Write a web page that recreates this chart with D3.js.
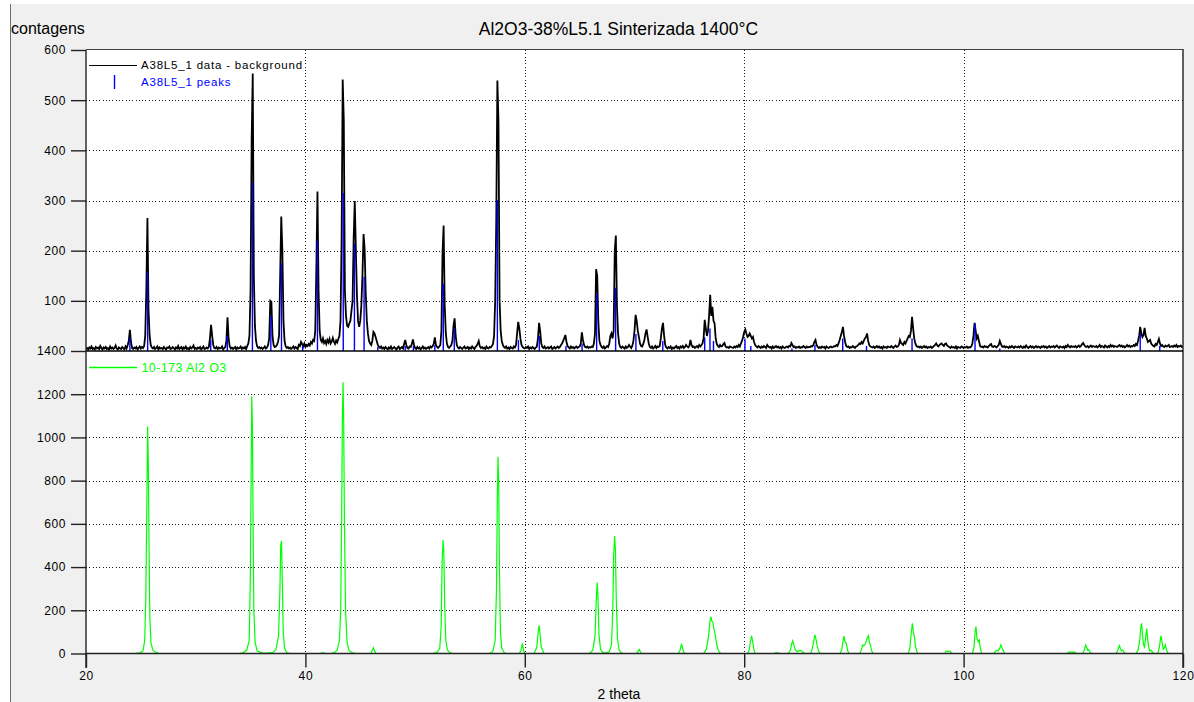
<!DOCTYPE html>
<html>
<head>
<meta charset="utf-8">
<script src="https://cdn.jsdelivr.net/npm/d3@7"></script>
<style>
  html, body { margin: 0; padding: 0; background: #ffffff; }
  svg { display: block; font-family: "Liberation Sans", Arial, sans-serif; }
</style>
</head>
<body>
<svg id="chart" width="1194" height="702"></svg>
<script>
// ---- texts ----
const chartTitle = "Al2O3-38%L5.1 Sinterizada 1400°C";
const yAxisTitle = "contagens";
const xAxisTitle = "2 theta";
const legendMeasured = "A38L5_1 data - background";
const legendPeaks = "A38L5_1 peaks";
const legendReference = "10-173 Al2 O3";

// ---- axis ticks ----
const xTicks = [20, 40, 60, 80, 100, 120];
const xGridTicks = [40, 60, 80, 100];
const topTicks = [100, 200, 300, 400, 500, 600];
const bottomTicks = [0, 200, 400, 600, 800, 1000, 1200, 1400];

// ---- measured pattern (background subtracted), counts every 0.1° from 20° ----
const scanStart = 20;
const scanStep = 0.1;
const measuredCounts = [
  4,6,3,7,5,9,4,6,3,8,   5,7,4,10,6,3,7,5,8,4,   6,3,9,5,7,4,6,11,5,3,   7,5,4,8,6,3,9,5,12,20,   42,18,6,4,7,5,8,3,6,9,
  5,8,6,10,30,122,265,82,30,12,   7,5,8,4,6,9,3,7,5,6,   4,8,5,3,7,6,9,4,5,8,   6,3,7,5,10,4,6,8,3,7,   5,9,4,6,3,8,5,7,11,4,
  6,4,7,5,8,3,6,9,4,5,   7,5,8,25,52,30,12,6,5,8,   4,7,5,6,9,3,6,8,20,67,   25,9,5,7,4,6,8,3,7,5,   6,9,4,7,5,8,4,10,15,30,
  120,420,553,148,50,20,9,6,8,5,   7,4,6,9,5,7,12,25,100,98,   30,12,8,9,12,18,30,150,268,200,   60,20,9,6,8,5,7,4,6,9,   5,8,6,4,12,10,18,14,9,15,
  8,12,10,14,11,18,15,22,20,40,   168,318,120,40,22,18,25,16,20,14,   22,17,24,15,19,26,18,14,21,17,   24,30,60,220,541,460,120,70,50,48,   55,60,80,100,225,299,200,110,60,48,
  60,90,150,233,203,115,60,35,20,15,   12,20,38,35,28,20,12,8,6,9,   5,7,4,8,6,3,7,5,9,4,   6,8,5,3,7,9,4,6,8,5,   14,22,12,6,5,9,8,14,23,12,
  6,4,8,5,7,3,6,9,5,7,   4,6,8,5,9,7,10,14,27,12,   8,6,9,12,40,195,250,90,35,15,   8,6,9,12,20,50,65,30,12,7,   5,8,6,4,7,9,5,6,8,4,
  7,5,9,6,4,8,10,14,20,9,   6,8,5,7,4,9,6,5,8,7,   10,14,30,100,261,539,457,102,40,20,   12,8,6,9,5,7,4,8,6,5,   9,7,12,35,58,45,25,12,8,6,
  5,8,6,9,4,7,5,8,6,4,   7,9,25,56,40,15,8,6,9,5,   6,8,5,7,9,4,6,8,5,7,   9,6,8,12,15,20,26,32,18,10,   7,5,9,6,8,5,7,9,6,8,
  9,14,37,22,12,8,7,9,6,8,   7,9,8,15,35,163,150,60,20,12,   8,6,9,5,7,10,8,15,30,35,   25,40,200,230,90,35,15,8,6,9,   7,5,9,6,8,12,9,6,10,20,
  40,72,60,40,28,15,10,9,14,22,   35,43,28,15,8,6,9,5,7,10,   6,9,8,10,25,45,56,30,12,7,   5,8,6,9,4,7,5,8,10,6,   8,5,9,7,10,6,8,12,9,7,
  10,22,12,8,9,6,8,10,7,12,   9,12,15,25,62,45,30,40,70,112,   70,88,60,55,25,14,10,8,12,9,   10,14,16,9,7,8,6,9,8,7,   6,9,7,10,8,12,9,15,20,28,
  38,43,35,28,30,35,30,25,28,18,   12,9,7,10,8,6,9,7,10,8,   6,12,9,7,8,5,9,6,8,10,   7,9,6,8,5,9,7,6,8,9,   7,10,9,16,12,8,9,6,8,7,
  9,6,8,7,10,8,6,9,7,8,   8,10,9,12,18,22,12,8,6,8,   6,9,7,8,5,9,7,6,8,9,   7,8,10,9,12,10,15,22,30,38,   48,30,18,10,8,9,6,8,7,10,
  8,6,9,10,12,15,14,18,15,20,   25,28,35,20,12,9,8,7,9,6,   8,10,7,9,6,8,5,9,7,8,   6,9,8,7,10,8,6,9,11,8,   9,12,22,16,14,12,18,15,20,25,
  30,28,40,68,45,25,15,10,8,9,   7,9,6,8,10,7,9,6,8,7,   9,6,8,10,12,15,11,9,12,14,   15,12,10,14,15,11,9,8,6,9,   7,8,6,9,5,8,7,6,9,8,
  6,8,7,9,6,8,7,9,15,30,   56,40,25,30,20,10,8,9,7,10,   8,9,7,10,12,14,9,8,10,9,   7,10,12,20,14,9,8,10,7,9,   8,6,9,7,10,8,6,9,8,7,
  9,7,10,8,6,9,7,11,8,6,   8,10,7,9,6,8,10,7,9,8,   6,9,8,10,7,9,6,8,10,7,   9,8,10,7,9,11,8,6,9,8,   7,9,6,10,8,12,9,7,10,8,
  9,8,10,7,9,11,8,10,14,16,   12,9,8,10,7,9,11,8,10,9,   8,10,7,9,12,8,10,9,7,11,   9,7,10,8,12,9,11,8,10,9,   8,10,12,9,11,8,10,7,9,12,
  9,11,8,10,9,12,10,14,12,20,   30,48,35,28,32,46,30,25,18,20,   22,15,12,10,9,14,12,18,24,15,   10,12,9,8,11,9,10,12,8,9,   10,8,11,9,12,8,10,9,11,8,
  9
];

// ---- fitted peak list of the measured pattern ----
const peakTheta = [24.0, 25.62, 31.37, 32.88, 35.17, 36.85, 37.82, 39.75, 41.1, 43.45, 44.47, 45.35, 46.6, 49.1, 49.85, 51.8,
  52.57, 53.57, 57.5, 59.42, 61.32, 63.75, 65.22, 66.55, 68.28, 70.13, 72.58, 76.4, 76.88, 77.2, 80.07, 80.6, 84.35, 86.45,
  88.98, 91.15, 95.3, 101.04, 103.3, 116.1, 117.88];
const peakCounts = [26, 158, 22, 30, 337, 70, 175, 10, 220, 315, 214, 148, 8, 10, 10, 12,
  134, 45, 301, 22, 30, 10, 15, 115, 126, 34, 20, 27, 45, 20, 25, 10, 5, 12,
  25, 10, 25, 55, 5, 35, 10];

// ---- reference pattern 10-173 (corundum), [2θ, intensity] ----
const referenceProfile = [
  [20,0],[24.4,0],[24.9,3],[25.2,12],[25.35,60],[25.45,250],[25.55,700],[25.62,1050],[25.68,880],[25.75,480],[25.82,170],[25.92,50],[26.1,15],[26.4,4],[26.7,0],
  [33.9,0],[34.3,3],[34.65,15],[34.88,60],[34.98,350],[35.05,800],[35.11,1190],[35.17,1050],[35.23,600],[35.3,200],[35.42,50],[35.6,12],[36.0,3],[36.5,2],[37.0,4],[37.3,15],
  [37.55,80],[37.68,300],[37.75,500],[37.82,521],[37.9,330],[37.98,100],[38.1,25],[38.3,4],[38.6,0],
  [41.4,0],[41.5,3],[41.7,3],[41.8,0],
  [42.3,0],[42.6,3],[42.9,15],[43.1,60],[43.22,200],[43.3,600],[43.37,1080],[43.43,1255],[43.49,1080],[43.56,600],[43.66,200],[43.8,50],[44.0,12],[44.3,3],[44.6,0],
  [45.95,0],[46.1,15],[46.19,27],[46.3,12],[46.45,0],
  [51.6,0],[52.0,5],[52.25,25],[52.38,130],[52.46,420],[52.55,525],[52.62,470],[52.7,220],[52.8,60],[52.95,15],[53.2,3],[53.4,0],
  [56.8,0],[57.1,12],[57.3,60],[57.42,300],[57.5,750],[57.56,910],[57.62,780],[57.69,380],[57.78,100],[57.9,25],[58.1,5],[58.3,0],
  [59.5,0],[59.65,15],[59.78,47],[59.88,15],[60.0,0],
  [60.85,0],[61.1,30],[61.22,100],[61.31,130],[61.38,95],[61.5,30],[61.75,0],
  [65.9,0],[66.2,15],[66.4,80],[66.52,250],[66.6,328],[66.67,260],[66.76,90],[66.9,20],[67.1,5],[67.4,2],[67.7,8],[67.9,40],
  [68.02,200],[68.1,450],[68.19,544],[68.26,480],[68.34,250],[68.45,70],[68.6,15],[68.8,3],[69.0,0],
  [70.2,0],[70.35,12],[70.44,19],[70.52,10],[70.62,0],
  [74.0,0],[74.15,15],[74.29,44],[74.38,25],[74.5,5],[74.6,0],
  [76.3,0],[76.55,20],[76.75,80],[76.88,150],[76.97,170],[77.05,150],[77.15,145],[77.25,110],[77.35,90],[77.45,55],[77.6,20],[77.75,5],[77.9,0],
  [80.3,0],[80.45,15],[80.58,60],[80.68,81],[80.76,60],[80.88,20],[81.0,0],
  [82.75,0],[82.85,3],[83.1,3],[83.2,0],
  [84.0,0],[84.2,15],[84.33,45],[84.42,59],[84.52,40],[84.65,18],[84.8,8],[84.95,12],[85.1,14],[85.25,10],[85.38,6],[85.5,0],
  [86.05,0],[86.2,20],[86.35,60],[86.45,86],[86.55,65],[86.65,35],[86.8,8],[86.95,0],
  [88.75,0],[88.9,20],[89.02,60],[89.1,81],[89.18,55],[89.25,50],[89.32,45],[89.42,15],[89.55,0],
  [90.55,0],[90.7,20],[90.8,40],[90.9,35],[91.05,45],[91.2,70],[91.32,82],[91.4,55],[91.5,40],[91.6,15],[91.75,0],
  [94.95,0],[95.1,25],[95.22,90],[95.33,140],[95.42,100],[95.52,75],[95.62,30],[95.8,0],
  [98.3,0],[98.4,10],[98.5,13],[98.6,8],[98.75,12],[98.85,5],[98.95,0],
  [100.8,0],[100.95,30],[101.05,100],[101.13,125],[101.22,70],[101.33,55],[101.43,63],[101.52,25],[101.65,0],
  [102.7,0],[102.85,5],[103.0,15],[103.15,12],[103.3,25],[103.4,40],[103.5,25],[103.6,15],[103.75,0],
  [109.4,0],[109.55,6],[109.7,8],[109.9,5],[110.1,7],[110.3,0],
  [110.85,0],[111.0,15],[111.13,40],[111.22,28],[111.32,15],[111.42,18],[111.52,6],[111.65,0],
  [113.9,0],[114.05,15],[114.2,37],[114.3,22],[114.4,12],[114.5,16],[114.62,6],[114.75,0],
  [115.7,0],[115.9,15],[116.05,60],[116.15,120],[116.23,140],[116.3,90],[116.4,40],[116.5,30],[116.6,80],[116.69,115],[116.77,70],[116.87,30],[116.97,12],[117.1,15],[117.22,5],[117.4,0],
  [117.7,0],[117.85,30],[117.95,70],[118.0,82],[118.1,50],[118.2,20],[118.3,25],[118.4,40],[118.5,15],[118.66,0],[120,0]
];

// ---- layout ----
const W = 1194, H = 702;
const plot = { left: 86, right: 1183, top: 50, mid: 351, bottom: 653.5 };

const svg = d3.select("#chart");

const x = d3.scaleLinear().domain([20, 120]).range([plot.left, plot.right]);
const yTop = d3.scaleLinear().domain([0, 600]).range([plot.mid, plot.top]);
const yBot = d3.scaleLinear().domain([0, 1400]).range([plot.bottom, plot.mid]);

// window background
svg.append("rect").attr("width", W).attr("height", H).attr("fill", "#ffffff");
svg.append("rect").attr("x", 11).attr("y", 4).attr("width", W - 11).attr("height", H - 4).attr("fill", "#f0f0f0");
svg.append("line").attr("x1", 10.5).attr("x2", 10.5).attr("y1", 4).attr("y2", H)
  .attr("stroke", "#6e6e6e").attr("stroke-width", 1);

// plot area
svg.append("rect").attr("x", plot.left).attr("y", plot.top)
  .attr("width", plot.right - plot.left).attr("height", plot.bottom - plot.top).attr("fill", "#ffffff");

const defs = svg.append("defs");
defs.append("clipPath").attr("id", "clipTop").append("rect")
  .attr("x", plot.left).attr("y", plot.top).attr("width", plot.right - plot.left).attr("height", plot.mid - plot.top);
defs.append("clipPath").attr("id", "clipBot").append("rect")
  .attr("x", plot.left).attr("y", plot.mid).attr("width", plot.right - plot.left).attr("height", plot.bottom - plot.mid);

// dotted grid
const grid = svg.append("g").attr("stroke", "#1a1a1a").attr("stroke-width", 1)
  .attr("stroke-dasharray", "1,2.3").attr("shape-rendering", "crispEdges");
grid.selectAll("line.gt").data(topTicks.filter(t => t < 600)).join("line")
  .attr("class", "gt")
  .attr("x1", plot.left).attr("x2", plot.right)
  .attr("y1", d => Math.round(yTop(d)) + 0.5).attr("y2", d => Math.round(yTop(d)) + 0.5);
grid.selectAll("line.gb").data(bottomTicks.filter(t => t > 0 && t < 1400)).join("line")
  .attr("class", "gb")
  .attr("x1", plot.left).attr("x2", plot.right)
  .attr("y1", d => Math.round(yBot(d)) + 0.5).attr("y2", d => Math.round(yBot(d)) + 0.5);
grid.selectAll("line.gv").data(xGridTicks).join("line")
  .attr("class", "gv")
  .attr("x1", d => Math.round(x(d)) + 0.5).attr("x2", d => Math.round(x(d)) + 0.5)
  .attr("y1", plot.top).attr("y2", plot.bottom);

// top panel: measured pattern with the fitted peak sticks over it
const topG = svg.append("g").attr("clip-path", "url(#clipTop)");
const measured = measuredCounts.map((c, i) => [scanStart + i * scanStep, c]);
topG.append("path").datum(measured)
  .attr("d", d3.line().x(d => x(d[0])).y(d => yTop(d[1])))
  .attr("fill", "none").attr("stroke", "#000000").attr("stroke-width", 1.8).attr("stroke-linejoin", "miter");

topG.selectAll("line.peak").data(peakTheta.map((t, i) => [t, peakCounts[i]])).join("line")
  .attr("class", "peak")
  .attr("x1", d => x(d[0])).attr("x2", d => x(d[0]))
  .attr("y1", yTop(0)).attr("y2", d => yTop(d[1]))
  .attr("stroke", "#0000ff").attr("stroke-width", 1.4);

// bottom panel: reference profile
const botG = svg.append("g").attr("clip-path", "url(#clipBot)");
botG.append("path").datum(referenceProfile)
  .attr("d", d3.line().x(d => x(d[0])).y(d => yBot(d[1])))
  .attr("fill", "none").attr("stroke", "#00ff00").attr("stroke-width", 1.2);

// frame lines
const frame = svg.append("g").attr("stroke", "#000").attr("fill", "none");
frame.append("line").attr("x1", plot.left).attr("x2", plot.right).attr("y1", plot.top - 0.5).attr("y2", plot.top - 0.5)
  .attr("stroke", "#444").attr("stroke-width", 1);
frame.append("line").attr("x1", plot.left).attr("x2", plot.left).attr("y1", plot.top).attr("y2", plot.bottom + 14.5)
  .attr("stroke", "#222").attr("stroke-width", 1.4);
frame.append("line").attr("x1", plot.right).attr("x2", plot.right).attr("y1", plot.top - 1).attr("y2", plot.bottom + 14.5)
  .attr("stroke", "#222").attr("stroke-width", 1.4);
frame.append("line").attr("x1", plot.left).attr("x2", plot.right).attr("y1", plot.mid).attr("y2", plot.mid)
  .attr("stroke", "#000").attr("stroke-width", 1.6);
frame.append("line").attr("x1", plot.left).attr("x2", plot.right).attr("y1", plot.bottom).attr("y2", plot.bottom)
  .attr("stroke", "#222").attr("stroke-width", 1.6);

// axes
function styleAxis(g) {
  g.select(".domain").remove();
  g.selectAll(".tick line").attr("stroke", "#222").attr("stroke-width", 1.4);
  g.selectAll(".tick text").attr("fill", "#000").attr("font-size", 12)
    .attr("font-family", "'Liberation Sans', Arial, sans-serif").style("letter-spacing", "0.6px");
}
svg.append("g").attr("transform", `translate(${plot.left},0)`)
  .call(d3.axisLeft(yTop).tickValues(topTicks.filter(t => t > 0)).tickSize(15).tickPadding(5).tickFormat(d3.format("d")))
  .call(styleAxis);
svg.append("g").attr("transform", `translate(${plot.left},0)`)
  .call(d3.axisLeft(yBot).tickValues(bottomTicks).tickSize(15).tickPadding(5).tickFormat(d3.format("d")))
  .call(styleAxis);
svg.append("g").attr("transform", `translate(0,${plot.bottom})`)
  .call(d3.axisBottom(x).tickValues(xTicks).tickSize(14).tickPadding(4).tickFormat(d3.format("d")))
  .call(styleAxis);

// titles
svg.append("text").attr("x", 618.5).attr("y", 35).attr("text-anchor", "middle")
  .attr("font-size", 17.5).attr("fill", "#000").text(chartTitle);
svg.append("text").attr("x", 11).attr("y", 33.5)
  .attr("font-size", 16).attr("fill", "#000").text(yAxisTitle);
svg.append("text").attr("x", 619).attr("y", 699).attr("text-anchor", "middle")
  .attr("font-size", 14).attr("fill", "#000").text(xAxisTitle);

// legends
const leg = svg.append("g");
leg.append("line").attr("x1", 89).attr("x2", 137).attr("y1", 65.5).attr("y2", 65.5)
  .attr("stroke", "#000").attr("stroke-width", 1.2);
leg.append("text").attr("x", 141).attr("y", 68.5).attr("font-size", 11.5).style("letter-spacing", "0.8px")
  .attr("fill", "#000").text(legendMeasured);
leg.append("line").attr("x1", 114.5).attr("x2", 114.5).attr("y1", 75).attr("y2", 89)
  .attr("stroke", "#0000ff").attr("stroke-width", 1.4);
leg.append("text").attr("x", 141).attr("y", 86).attr("font-size", 11.5).style("letter-spacing", "0.8px")
  .attr("fill", "#0000ff").text(legendPeaks);
leg.append("line").attr("x1", 89).attr("x2", 137).attr("y1", 367.5).attr("y2", 367.5)
  .attr("stroke", "#00ff00").attr("stroke-width", 1.3);
leg.append("text").attr("x", 141.5).attr("y", 372).attr("font-size", 12.5).style("letter-spacing", "0.4px")
  .attr("fill", "#00ff00").text(legendReference);
</script>
</body>
</html>
